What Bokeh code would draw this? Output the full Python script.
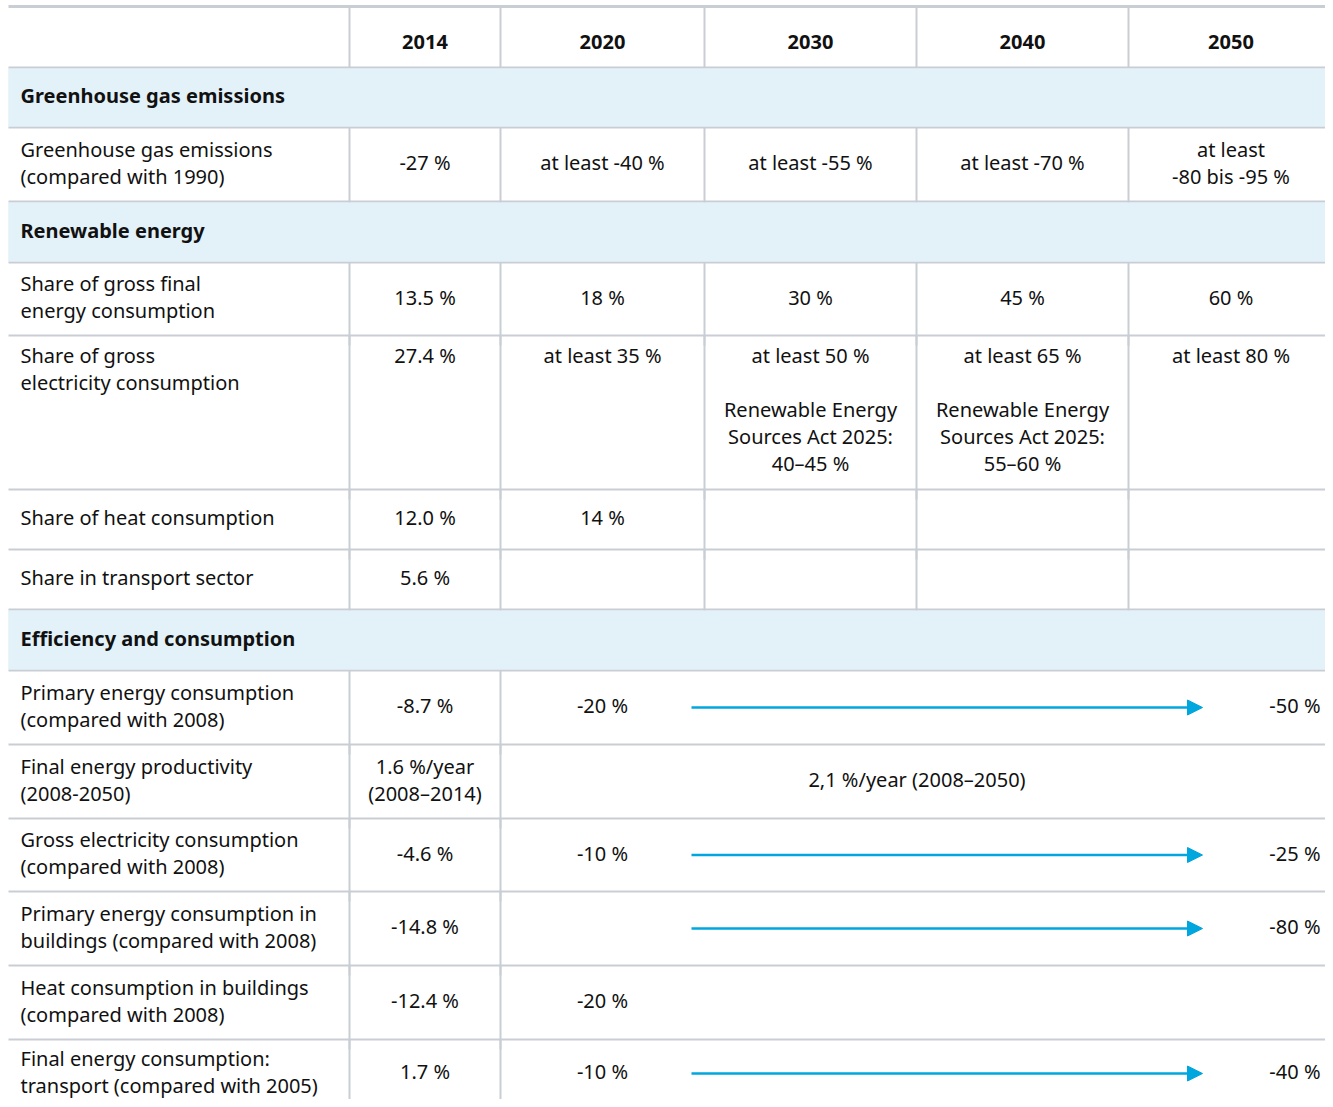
from bokeh.plotting import figure
from bokeh.models import Range1d, ColumnDataSource, Arrow, NormalHead
from bokeh.core.properties import value
from bokeh.embed import file_html
from bokeh.resources import INLINE

# ---------------- data ----------------
years = ["2014", "2020", "2030", "2040", "2050"]
sections = ["Greenhouse gas emissions", "Renewable energy", "Efficiency and consumption"]

row_section = [0, 1, 1, 1, 1, 2, 2, 2, 2, 2, 2]
row_labels = [
    "Greenhouse gas emissions\n(compared with 1990)",
    "Share of gross final\nenergy consumption",
    "Share of gross\nelectricity consumption",
    "Share of heat consumption",
    "Share in transport sector",
    "Primary energy consumption\n(compared with 2008)",
    "Final energy productivity\n(2008-2050)",
    "Gross electricity consumption\n(compared with 2008)",
    "Primary energy consumption in\nbuildings (compared with 2008)",
    "Heat consumption in buildings\n(compared with 2008)",
    "Final energy consumption:\ntransport (compared with 2005)",
]
v2014 = ["-27 %", "13.5 %", "27.4 %", "12.0 %", "5.6 %",
         "-8.7 %", "1.6 %/year\n(2008\u20132014)", "-4.6 %", "-14.8 %", "-12.4 %", "1.7 %"]
v2020 = ["at least -40 %", "18 %", "at least 35 %", "14 %", "",
         "-20 %", "", "-10 %", "", "-20 %", "-10 %"]
v2030 = ["at least -55 %", "30 %",
         "at least 50 %\n\nRenewable Energy\nSources Act 2025:\n40\u201345 %", "", "",
         "", "2,1 %/year (2008\u20132050)", "", "", "", ""]
v2040 = ["at least -70 %", "45 %",
         "at least 65 %\n\nRenewable Energy\nSources Act 2025:\n55\u201360 %", "", "",
         "", "", "", "", "", ""]
v2050 = ["at least\n-80 bis -95 %", "60 %", "at least 80 %", "", "",
         "-50 %", "", "-25 %", "-80 %", "", "-40 %"]
trend_arrow = [False, False, False, False, False, True, False, True, True, False, True]

# ---------------- layout ----------------
W, H = 1325, 1099
TABLE_R = 1333
col_edges = [8, 349, 500, 704, 916, 1128, TABLE_R]
top_rule = 6
header_top, header_h = 7, 60
section_h = [60, 61, 61]
row_h = [74, 73, 154, 60, 60, 74, 74, 73, 74, 74, 68]
LH = 27
DY = -2
PAD_X = 20
FONT = value("Noto Sans")
FS = "20px"
TXT = "#111111"
GRID = "#c9ced4"
BAND = "#e3f1f9"
BLUE = "#00a6de"

p = figure(width=W, height=H, x_range=Range1d(0, W), y_range=Range1d(H, 0),
           output_backend="svg", toolbar_location=None,
           x_axis_type=None, y_axis_type=None, min_border=0,
           outline_line_color=None)
p.grid.visible = False

texts = {("center", "normal"): [], ("left", "normal"): [], ("right", "normal"): [],
         ("center", "bold"): [], ("left", "bold"): []}


def add_text(x, yc, txt, align="center", style="normal", top=None):
    lines = txt.split("\n")
    n = len(lines)
    for i, ln in enumerate(lines):
        if not ln:
            continue
        if top is None:
            y = yc + (i - (n - 1) / 2) * LH
        else:
            y = top + i * LH
        texts[(align, style)].append((x, y + DY, ln))


def col_center(j):
    return (col_edges[j + 1] + col_edges[j + 2]) / 2


hy, vx, vy0, vy1 = [], [], [], []
band_y, band_h = [], []

# header
y = header_top
for j, yr in enumerate(years):
    add_text(col_center(j), y + header_h / 2 + 6, yr, style="bold")
for e in col_edges[1:-1]:
    vx.append(e); vy0.append(y); vy1.append(y + header_h)
y += header_h
hy.append(y)

arrows = []
cur_sec = -1
for r, lab in enumerate(row_labels):
    s = row_section[r]
    if s != cur_sec:
        cur_sec = s
        hgt = section_h[s]
        band_y.append(y + hgt / 2); band_h.append(hgt)
        add_text(PAD_X, y + hgt / 2, sections[s], align="left", style="bold")
        y += hgt
        hy.append(y)
    hgt = row_h[r]
    yc = y + hgt / 2
    cells = [lab, v2014[r], v2020[r], v2030[r], v2040[r], v2050[r]]
    maxl = max(len(c.split("\n")) for c in cells)
    top = y + 22 if maxl > 2 else None
    add_text(PAD_X, yc, lab, align="left", top=top)
    if s < 2:
        for j in range(5):
            if cells[j + 1]:
                add_text(col_center(j), yc, cells[j + 1], top=top)
        edges = col_edges[1:-1]
    else:
        for j in range(2):
            if cells[j + 1]:
                add_text(col_center(j), yc, cells[j + 1], top=top)
        if v2030[r]:
            add_text((col_edges[2] + col_edges[6]) / 2, yc, v2030[r])
        if v2050[r]:
            add_text(TABLE_R - 13, yc, v2050[r], align="right")
        if trend_arrow[r]:
            arrows.append(yc)
        edges = col_edges[1:3]
    for e in edges:
        vx.append(e); vy0.append(y); vy1.append(y + hgt + 10)
    y += hgt
    hy.append(y)

# section bands
p.rect(x=(col_edges[0] + TABLE_R) / 2, y=band_y, width=TABLE_R - col_edges[0], height=band_h,
       fill_color=BAND, line_color=None)

# horizontal rules (the last boundary lies below the visible area)
p.segment(x0=col_edges[0], y0=hy[:-1], x1=TABLE_R, y1=hy[:-1], line_color=GRID, line_width=2)
p.segment(x0=col_edges[0], y0=top_rule, x1=TABLE_R, y1=top_rule, line_color=GRID, line_width=3)
# vertical rules
p.segment(x0=vx, y0=vy0, x1=vx, y1=vy1, line_color=GRID, line_width=2)
# redraw bands' neighbours: section rows have no vertical rules, cover overshoot
p.rect(x=(col_edges[0] + TABLE_R) / 2, y=band_y, width=TABLE_R - col_edges[0], height=[h - 2 for h in band_h],
       fill_color=BAND, line_color=None)

# texts
for (align, style), items in texts.items():
    if not items:
        continue
    src = ColumnDataSource(dict(x=[t[0] for t in items], y=[t[1] for t in items],
                                text=[t[2] for t in items]))
    p.text(x="x", y="y", text="text", source=src, text_font=FONT, text_font_size=FS,
           text_font_style=style, text_align=align, text_baseline="middle", text_color=TXT)

# trend arrows (2020 -> 2050)
for yc in arrows:
    p.add_layout(Arrow(x_start=691, y_start=yc, x_end=1202, y_end=yc,
                       line_color=BLUE, line_width=2.5,
                       end=NormalHead(size=15, fill_color=BLUE, line_color=BLUE)))

open("out.html", "w").write(file_html(p, INLINE))
